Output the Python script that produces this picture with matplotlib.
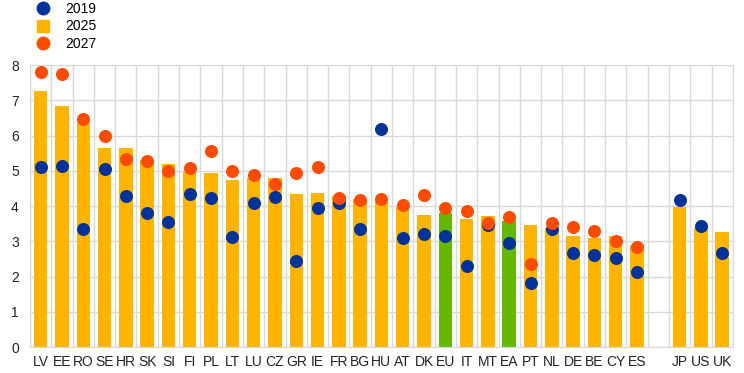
import numpy as np
import matplotlib
matplotlib.use("Agg")
import matplotlib.pyplot as plt
from matplotlib.lines import Line2D

plt.rcParams['font.family'] = ['Liberation Sans', 'DejaVu Sans']

# data
countries = ["LV", "EE", "RO", "SE", "HR", "SK", "SI", "FI", "PL", "LT", "LU", "CZ",
             "GR", "IE", "FR", "BG", "HU", "AT", "DK", "EU", "IT", "MT", "EA", "PT",
             "NL", "DE", "BE", "CY", "ES"]
others = ["JP", "US", "UK"]

v2025 = [7.27, 6.84, 6.35, 5.65, 5.65, 5.30, 5.19, 4.96, 4.93, 4.73, 4.79, 4.79,
         4.34, 4.36, 4.28, 4.21, 4.11, 3.98, 3.74, 3.80, 3.64, 3.71, 3.57, 3.45,
         3.39, 3.14, 3.10, 3.14, 2.89,
         3.96, 3.37, 3.26]
v2019 = [5.10, 5.14, 3.34, 5.05, 4.29, 3.81, 3.54, 4.35, 4.22, 3.11, 4.08, 4.25,
         2.43, 3.94, 4.09, 3.34, 6.18, 3.10, 3.20, 3.14, 2.29, 3.45, 2.94, 1.81,
         3.36, 2.66, 2.60, 2.52, 2.12,
         4.16, 3.42, 2.66]
v2027 = [7.80, 7.74, 6.47, 5.98, 5.33, 5.27, 4.99, 5.07, 5.56, 4.99, 4.88, 4.62,
         4.94, 5.11, 4.24, 4.17, 4.19, 4.02, 4.31, 3.94, 3.85, 3.53, 3.68, 2.35,
         3.51, 3.40, 3.28, 3.00, 2.84,
         np.nan, np.nan, np.nan]

BLUE = "#003299"
YELLOW = "#FFB400"
ORANGE = "#FF4B00"
GREEN = "#65B800"
GRID = "#d9d9d9"

labels = countries + others
x = np.arange(len(labels), dtype=float)
x[len(countries):] += 1  # empty slot before JP/US/UK

fig = plt.figure(figsize=(7.44, 3.73), dpi=100)
ax = fig.add_axes([0.0403, 0.0697, 0.9447, 0.756])

bar_cols = [GREEN if c in ("EU", "EA") else YELLOW for c in labels]
ax.bar(x, v2025, width=0.63, color=bar_cols, zorder=2)
ax.scatter(x, v2019, s=88, color=BLUE, zorder=3, linewidths=0)
ax.scatter(x, v2027, s=88, color=ORANGE, zorder=4, linewidths=0)

ax.set_xlim(-0.5, x[-1] + 0.5)
ax.set_ylim(0, 8)
ax.set_yticks(range(9))
ax.set_xticks(x)
ax.set_xticklabels(labels)
ax.set_xticks(np.arange(-0.5, x[-1] + 1), minor=True)
ax.grid(True, which='major', axis='y', color=GRID, lw=1, zorder=0)
ax.grid(True, which='minor', axis='x', color=GRID, lw=1, zorder=0)
ax.tick_params(which='both', length=0)
ax.tick_params(axis='x', labelsize=10, pad=6, colors='#222222')
ax.tick_params(axis='y', labelsize=10, pad=8, colors='#222222')
for s in ax.spines.values():
    s.set_color(GRID)

handles = [Line2D([], [], marker='o', ls='', color=BLUE, markersize=9),
           Line2D([], [], marker='s', ls='', color=YELLOW, markersize=9),
           Line2D([], [], marker='o', ls='', color=ORANGE, markersize=9)]
fig.legend(handles, ["2019", "2025", "2027"], loc='upper left',
           bbox_to_anchor=(0.028, 1.017), frameon=False, fontsize=10,
           handletextpad=0.6, labelspacing=0.25, borderaxespad=0.2)

fig.savefig("out.png", dpi=100)
